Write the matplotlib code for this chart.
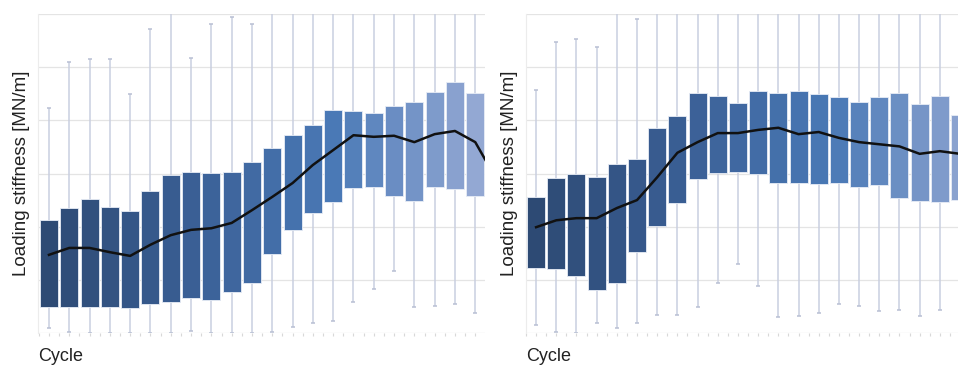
import numpy as np
import matplotlib.pyplot as plt
from matplotlib.colors import LinearSegmentedColormap

# Loading stiffness per cycle (box statistics), left and right test
left_low = [0.09, 0.02, 0.0, 0.0, 0.0, 0.0, 0.0, 0.04, 0.0, 0.0, 0.0, 0.02,
            0.11, 0.19, 0.23, 0.58, 0.83, 1.17, 0.49, 0.51, 0.55, 0.38, 0.40]
left_q1 = [0.49, 0.49, 0.49, 0.49, 0.47, 0.55, 0.58, 0.66, 0.62, 0.77, 0.94, 1.49,
           1.94, 2.26, 2.46, 2.73, 2.75, 2.58, 2.48, 2.75, 2.71, 2.58, 2.20]
left_med = [1.47, 1.60, 1.60, 1.52, 1.45, 1.66, 1.84, 1.94, 1.97, 2.07, 2.31, 2.56,
            2.82, 3.16, 3.44, 3.72, 3.69, 3.71, 3.59, 3.74, 3.80, 3.59, 2.92]
left_q3 = [2.13, 2.35, 2.52, 2.37, 2.29, 2.67, 2.97, 3.03, 3.01, 3.03, 3.22, 3.48,
           3.72, 3.91, 4.19, 4.18, 4.14, 4.27, 4.34, 4.53, 4.72, 4.51, 4.20]
left_high = [4.23, 5.10, 5.15, 5.15, 4.50, 5.72, 6.5, 5.17, 5.81, 5.94, 5.81, 6.5,
             6.5, 6.5, 6.5, 6.5, 6.5, 6.5, 6.5, 6.5, 6.5, 6.5, 6.5]

right_low = [0.15, 0.02, 0.0, 0.19, 0.09, 0.19, 0.34, 0.34, 0.49, 0.94, 1.30,
             0.88, 0.30, 0.32, 0.38, 0.55, 0.51, 0.41, 0.43, 0.32, 0.43, 0.43]
right_q1 = [1.22, 1.20, 1.07, 0.81, 0.94, 1.52, 2.01, 2.44, 2.90, 3.01, 3.03,
            2.99, 2.82, 2.82, 2.80, 2.82, 2.75, 2.78, 2.54, 2.48, 2.46, 2.50]
right_med = [1.99, 2.12, 2.16, 2.16, 2.35, 2.50, 2.93, 3.39, 3.59, 3.76, 3.76,
             3.82, 3.86, 3.74, 3.78, 3.67, 3.59, 3.55, 3.51, 3.37, 3.42, 3.37]
right_q3 = [2.56, 2.91, 2.99, 2.93, 3.18, 3.27, 3.86, 4.08, 4.51, 4.46, 4.33,
            4.55, 4.51, 4.55, 4.49, 4.44, 4.34, 4.44, 4.51, 4.30, 4.46, 4.10]
right_high = [4.57, 5.47, 5.53, 5.38, 6.5, 5.91, 6.5, 6.5, 6.5, 6.5, 6.5,
              6.5, 6.5, 6.5, 6.5, 6.5, 6.5, 6.5, 6.5, 6.5, 6.5, 6.5]

plt.rcParams['font.family'] = ['Liberation Sans', 'DejaVu Sans']

cmap = LinearSegmentedColormap.from_list(
    'boxes', ['#2d4a74', '#3a5f95', '#4a79b6', '#93a8d3'])

fig = plt.figure(figsize=(9.58, 3.68), dpi=100)
ax_l = fig.add_axes([38 / 958, 35 / 368, 447 / 958, 319 / 368])
ax_r = fig.add_axes([526 / 958, 35 / 368, 432 / 958, 319 / 368])


def draw_panel(ax, low, q1, med, q3, high, xlim, n_col):
    x = np.arange(1, len(med) + 1)
    colors = [cmap(min(i / (n_col - 1), 1.0)) for i in range(len(med))]
    ax.vlines(x, low, high, color='#c9cfe0', lw=1.1, zorder=1)
    ax.hlines(low, x - 0.1, x + 0.1, color='#b8bfd3', lw=1.1, zorder=1)
    ax.hlines(high, x - 0.1, x + 0.1, color='#b8bfd3', lw=1.1, zorder=1)
    ax.bar(x, np.array(q3) - np.array(q1), bottom=q1, width=0.89,
           color=colors, edgecolor='#e8edf6', linewidth=0.6, zorder=2)
    ax.plot(x, med, color='#111111', lw=1.8, zorder=3)
    ax.set_yticks(range(7))
    ax.set_yticklabels([])
    ax.set_xticks(np.arange(0.5, len(med) + 1, 0.5))
    ax.set_xticklabels([])
    ax.set_xlim(*xlim)
    ax.set_ylim(0, 6)
    ax.tick_params(axis='x', length=2, color='#d8d8d8', width=0.8)
    ax.tick_params(axis='y', length=0)
    ax.grid(axis='y', color='#e4e4e4', lw=0.9, zorder=0)
    ax.set_axisbelow(True)
    for side in ['top', 'right', 'bottom']:
        ax.spines[side].set_visible(False)
    ax.spines['left'].set_color('#ececec')
    ax.set_ylabel('Loading stiffness [MN/m]', fontsize=13.5, color='#222222')
    w = ax.get_position().width * 958
    ax.yaxis.set_label_coords(-8 / w, 0.5)
    ax.text(0, -0.075, 'Cycle', transform=ax.transAxes, fontsize=13,
            color='#222222', ha='left', va='center')


draw_panel(ax_l, left_low, left_q1, left_med, left_q3, left_high, (0.46, 22.48), 22)
draw_panel(ax_r, right_low, right_q1, right_med, right_q3, right_high, (0.5, 21.9), 23)

fig.savefig('out.png', dpi=100)
